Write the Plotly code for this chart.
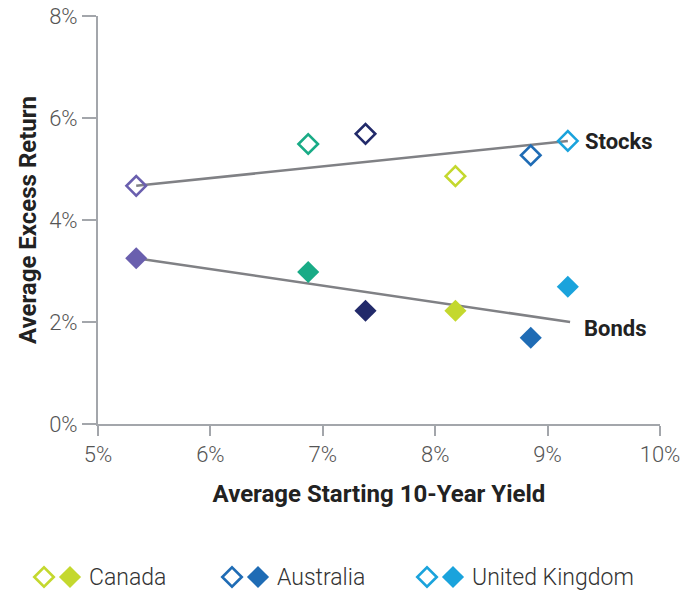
import plotly.graph_objects as go

# ---- data ----
yield_x = [5.34, 6.87, 7.38, 8.18, 8.85, 9.18]
stock_ret = [4.67, 5.49, 5.69, 4.86, 5.27, 5.55]
bond_ret = [3.25, 2.98, 2.22, 2.22, 1.69, 2.69]
colors = ["#6a5fae", "#19ab86", "#222a6a", "#c4d82e", "#1f6cb5", "#1aa3dc"]

stocks_trend_x = [5.34, 9.18]
stocks_trend_y = [4.67, 5.55]
bonds_trend_x = [5.34, 9.2]
bonds_trend_y = [3.25, 2.0]

legend_names = ["Canada", "Australia", "United Kingdom"]
legend_colors = ["#c4d82e", "#1f6cb5", "#1aa3dc"]

x_ticks = [5, 6, 7, 8, 9, 10]
y_ticks = [0, 2, 4, 6, 8]

W, H = 693, 593
AX = "#a3a6ab"
TXT = "#222222"
TICKFONT = dict(family="Roboto", size=22, color="#555555", weight=300)
TITLEFONT = dict(family="Roboto", size=24, color=TXT, weight=700)
LABELFONT = dict(family="Roboto", size=22, color=TXT, weight=700)

fig = go.Figure()

# trend lines
fig.add_trace(go.Scatter(x=stocks_trend_x, y=stocks_trend_y, mode="lines",
                         line=dict(color="#808185", width=2.5), showlegend=False, hoverinfo="skip"))
fig.add_trace(go.Scatter(x=bonds_trend_x, y=bonds_trend_y, mode="lines",
                         line=dict(color="#808185", width=2.5), showlegend=False, hoverinfo="skip"))

# stocks (open) and bonds (filled)
fig.add_trace(go.Scatter(x=yield_x, y=stock_ret, mode="markers", showlegend=False,
                         marker=dict(symbol="diamond-open", size=15, color=colors,
                                     line=dict(width=2.6))))
fig.add_trace(go.Scatter(x=yield_x, y=bond_ret, mode="markers", showlegend=False,
                         marker=dict(symbol="diamond", size=17, color=colors,
                                     line=dict(width=0))))

# series labels at ends of trend lines
fig.add_annotation(x=stocks_trend_x[-1], y=stocks_trend_y[-1], text="Stocks", showarrow=False,
                   xanchor="left", xshift=15, yshift=-1, font=LABELFONT)
fig.add_annotation(x=bonds_trend_x[-1], y=bonds_trend_y[-1], text="Bonds", showarrow=False,
                   xanchor="left", xshift=12, yshift=-6, font=LABELFONT)

# custom legend on a hidden axis
leg_open_x = [44, 232, 427]
gap = 26
for i, (nm, c) in enumerate(zip(legend_names, legend_colors)):
    fig.add_trace(go.Scatter(x=[leg_open_x[i]], y=[0.5], xaxis="x2", yaxis="y2", mode="markers",
                             showlegend=False, hoverinfo="skip",
                             marker=dict(symbol="diamond-open", size=15, color=c, line=dict(width=2.6))))
    fig.add_trace(go.Scatter(x=[leg_open_x[i] + gap], y=[0.5], xaxis="x2", yaxis="y2", mode="markers",
                             showlegend=False, hoverinfo="skip",
                             marker=dict(symbol="diamond", size=17, color=c, line=dict(width=0))))
    fig.add_annotation(x=leg_open_x[i] + gap + 17, y=0.5, xref="x2", yref="y2", text=nm,
                       showarrow=False, xanchor="left",
                       font=dict(family="Roboto", size=23, color="#333333", weight=300))

x_dom = [98 / W, 660 / W]
y_dom = [(H - 424) / H, (H - 16) / H]

fig.update_layout(
    width=W, height=H,
    margin=dict(l=0, r=0, t=0, b=0, autoexpand=False),
    paper_bgcolor="white", plot_bgcolor="white",
    xaxis=dict(domain=x_dom, range=[5, 10], tickvals=x_ticks, automargin=False,
               ticktext=[f"{v}%" for v in x_ticks], showgrid=False, zeroline=False,
               showline=True, linecolor=AX, linewidth=2, ticks="outside", ticklen=10,
               tickwidth=2, tickcolor=AX, tickfont=TICKFONT,
               title=dict(text="Average Starting 10-Year Yield", font=TITLEFONT, standoff=19)),
    yaxis=dict(domain=y_dom, range=[0, 8], tickvals=y_ticks, automargin=False,
               ticktext=[f"{v}%" for v in y_ticks], showgrid=False, zeroline=False,
               showline=True, linecolor=AX, linewidth=2, ticks="outside", ticklen=14,
               tickwidth=2, tickcolor=AX, tickfont=TICKFONT,
               title=dict(text="Average Excess Return", font=TITLEFONT, standoff=6)),
    xaxis2=dict(domain=[0, 1], range=[0, W], visible=False, fixedrange=True, anchor="y2"),
    yaxis2=dict(domain=[0, 32 / H], range=[0, 1], visible=False, fixedrange=True, anchor="x2"),
    showlegend=False,
)

fig.write_html("out.html", config={"displayModeBar": False},
               post_script="document.body.style.margin='0px';")
